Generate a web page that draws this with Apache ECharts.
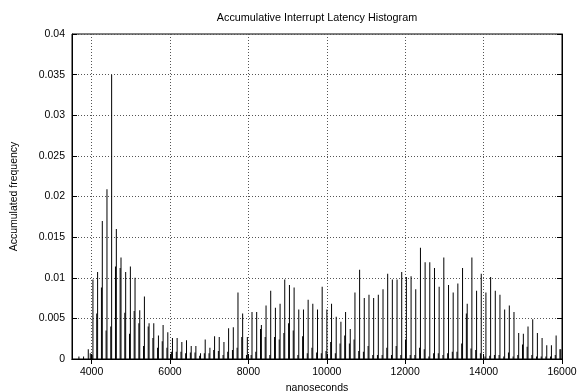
<!DOCTYPE html>
<html>
<head>
<meta charset="utf-8">
<script src="https://cdn.jsdelivr.net/npm/echarts@6/dist/echarts.min.js"></script>
<style>
html,body{margin:0;padding:0;background:#fff;}
#chart{width:577px;height:392px;}
</style>
</head>
<body>
<div id="chart"></div>
<script>
// ---- data ----
const titleText = 'Accumulative Interrupt Latency Histogram';
const xName = 'nanoseconds';
const yName = 'Accumulated frequency';
const xTicks = [4000, 6000, 8000, 10000, 12000, 14000, 16000];

// main impulses (latency in ns, accumulated frequency)
const peakNs = [3676, 3795, 3915,
  4034, 4153, 4273, 4392, 4511, 4631, 4750, 4869, 4989, 5108,
  5228, 5347, 5466, 5586, 5705, 5824, 5944, 6063, 6182, 6302,
  6421, 6541, 6660, 6779, 6898, 7018, 7137, 7256, 7376, 7495,
  7615, 7734, 7853, 7973, 8092, 8211, 8331, 8450, 8569, 8689,
  8808, 8927, 9047, 9166, 9285, 9405, 9524, 9643, 9763, 9882,
  10002, 10121, 10240, 10360, 10479, 10598, 10718, 10837, 10956, 11076,
  11195, 11314, 11434, 11553, 11672, 11792, 11911, 12030, 12150, 12269,
  12389, 12508, 12627, 12747, 12866, 12985, 13105, 13224, 13343, 13463,
  13582, 13701, 13821, 13940, 14059, 14179, 14298, 14417, 14537, 14656,
  14775, 14895, 15014, 15133, 15253, 15372, 15492, 15611, 15730, 15850,
  15969];
const peakFreq = [0.0003, 0.0003, 0.0012,
  0.0098, 0.0107, 0.0170, 0.0209, 0.0350, 0.0160, 0.0125, 0.0107, 0.0114, 0.0100,
  0.0060, 0.0077, 0.0044, 0.0044, 0.0029, 0.0042, 0.0033, 0.0026, 0.0026, 0.0021,
  0.0023, 0.0016, 0.0016, 0.0007, 0.0024, 0.0014, 0.0028, 0.0027, 0.0021, 0.0038,
  0.0039, 0.0082, 0.0056, 0.0027, 0.0058, 0.0058, 0.0042, 0.0066, 0.0084, 0.0063,
  0.0068, 0.0098, 0.0091, 0.0088, 0.0061, 0.0061, 0.0073, 0.0068, 0.0061, 0.0089,
  0.0061, 0.0068, 0.0052, 0.0046, 0.0058, 0.0037, 0.0082, 0.0110, 0.0075, 0.0079,
  0.0075, 0.0079, 0.0086, 0.0105, 0.0098, 0.0098, 0.0107, 0.0101, 0.0102, 0.0086,
  0.0137, 0.0119, 0.0119, 0.0112, 0.0089, 0.0125, 0.0091, 0.0082, 0.0093, 0.0112,
  0.0068, 0.0125, 0.0084, 0.0105, 0.0082, 0.0101, 0.0084, 0.0079, 0.0061, 0.0066,
  0.0058, 0.0032, 0.0031, 0.0040, 0.0049, 0.0032, 0.0026, 0.0017, 0.0017, 0.0029,
  0.0012];

// shorter impulses just beside the main ones
const shoulderNs = [3966,
  4012, 4131, 4251, 4370, 4489, 4609, 4728, 4847, 4967, 5086,
  5206, 5325, 5444, 5564, 5683, 5802, 5922, 6041, 6160, 6280,
  6399, 6519, 6638, 6757, 6876, 6996, 7115, 7234, 7354, 7473,
  7593, 7712, 7831, 7951, 8070, 8189, 8309, 8428, 8547, 8667,
  8786, 8905, 9025, 9144, 9263, 9383, 9502, 9621, 9741, 9860,
  9980, 10099, 10218, 10338, 10457, 10576, 10696, 10815, 10934, 11054,
  11173, 11292, 11412, 11531, 11650, 11770, 11889, 12008, 12128, 12247,
  12367, 12486, 12605, 12725, 12844, 12963, 13083, 13202, 13321, 13441,
  13560, 13679, 13799, 13918, 14037, 14157, 14276, 14395, 14515, 14634,
  14753, 14873, 14992, 15111, 15231, 15350, 15470, 15589, 15708, 15828,
  15947];
const shoulderFreq = [0.0007,
  0.0005, 0.0056, 0.0088, 0.0035, 0.0040, 0.0114, 0.0112, 0.0057, 0.0031, 0.0059,
  0.0044, 0.0016, 0.0040, 0.0026, 0.0014, 0.0022, 0.0014, 0.0009, 0.0009, 0.0009,
  0.0007, 0.0008, 0.0008, 0.0004, 0.0007, 0.0007, 0.0011, 0.0010, 0.0005, 0.0009,
  0.0011, 0.0014, 0.0027, 0.0005, 0.0005, 0.0009, 0.0037, 0.0027, 0.0005, 0.0027,
  0.0024, 0.0032, 0.0044, 0.0035, 0.0005, 0.0028, 0.0007, 0.0014, 0.0008, 0.0007,
  0.0010, 0.0021, 0.0007, 0.0019, 0.0029, 0.0019, 0.0024, 0.0010, 0.0009, 0.0016,
  0.0005, 0.0005, 0.0005, 0.0014, 0.0005, 0.0016, 0.0005, 0.0024, 0.0005, 0.0005,
  0.0014, 0.0012, 0.0003, 0.0007, 0.0007, 0.0005, 0.0007, 0.0009, 0.0009, 0.0019,
  0.0056, 0.0013, 0.0011, 0.0007, 0.0003, 0.0004, 0.0005, 0.0005, 0.0003, 0.0008,
  0.0003, 0.0005, 0.0018, 0.0015, 0.0005, 0.0003, 0.0003, 0.0003, 0.0003, 0.0005,
  0.0012];

// ---- chart ----
const FONT = "'Liberation Sans', Arial, Helvetica, sans-serif";
const impulses = peakNs.map((x, i) => [x, peakFreq[i]])
  .concat(shoulderNs.map((x, i) => [x, shoulderFreq[i]]));

const gridLine = { show: true, lineStyle: { color: '#555', width: 1, type: [1, 2] } };
const axisLineBlack = { show: true, lineStyle: { color: '#000', width: 1 } };

const chart = echarts.init(document.getElementById('chart'), null, { renderer: 'canvas' });
chart.setOption({
  animation: false,
  backgroundColor: '#fff',
  graphic: [{
    type: 'text', x: 317, y: 18,
    style: { text: titleText, font: '10.8px ' + FONT, fill: '#000', textAlign: 'center', textVerticalAlign: 'middle' }
  }],
  grid: { left: 72, right: 15, top: 34, bottom: 33, show: true, borderColor: '#000', borderWidth: 1,
    containLabel: false, outerBoundsMode: 'none' },
  xAxis: [{
    type: 'value', min: 3500, max: 16000, position: 'bottom',
    name: xName, nameLocation: 'middle', nameGap: 16,
    nameTextStyle: { fontFamily: FONT, fontSize: 10.5, color: '#000' },
    axisLine: axisLineBlack,
    axisTick: { show: true, inside: true, length: 5, lineStyle: { color: '#000' }, customValues: xTicks },
    axisLabel: { show: true, color: '#000', fontFamily: FONT, fontSize: 10.5, margin: 8,
      customValues: xTicks, formatter: (v) => String(v) },
    splitLine: gridLine
  }, {
    type: 'value', min: 3500, max: 16000, position: 'top',
    axisLine: axisLineBlack,
    axisTick: { show: true, inside: true, length: 5, lineStyle: { color: '#000' }, customValues: xTicks },
    axisLabel: { show: false, customValues: xTicks },
    splitLine: { show: false }
  }],
  yAxis: [{
    type: 'value', min: 0, max: 0.04, interval: 0.005, position: 'left',
    name: yName, nameLocation: 'middle', nameGap: 52, nameRotate: 90,
    nameTextStyle: { fontFamily: FONT, fontSize: 10.5, color: '#000' },
    axisLine: axisLineBlack,
    axisTick: { show: true, inside: true, length: 5, lineStyle: { color: '#000' } },
    axisLabel: { show: true, color: '#000', fontFamily: FONT, fontSize: 10.5, margin: 7 },
    splitLine: gridLine
  }, {
    type: 'value', min: 0, max: 0.04, interval: 0.005, position: 'right',
    axisLine: axisLineBlack,
    axisTick: { show: true, inside: true, length: 5, lineStyle: { color: '#000' } },
    axisLabel: { show: false },
    splitLine: { show: false }
  }],
  series: [{
    type: 'bar',
    xAxisIndex: 0, yAxisIndex: 0,
    data: impulses,
    barWidth: 1,
    itemStyle: { color: '#000' },
    emphasis: { disabled: true },
    z: 3
  }]
});
</script>
</body>
</html>
